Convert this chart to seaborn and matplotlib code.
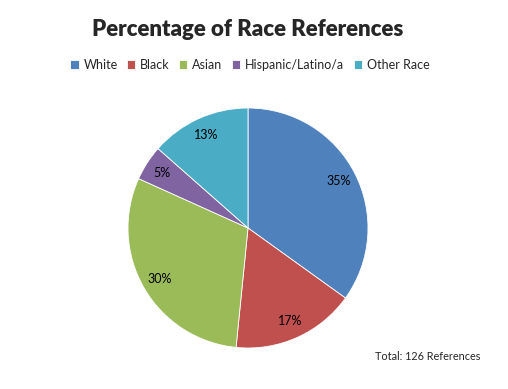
import matplotlib
matplotlib.use('Agg')
import matplotlib.pyplot as plt
import seaborn as sns

races = ['White', 'Black', 'Asian', 'Hispanic/Latino/a', 'Other Race']
counts = [44, 21, 38, 6, 17]
total_refs = 126

sns.set_theme(style='white')
plt.rcParams['font.family'] = ['Lato', 'DejaVu Sans']

colors = sns.color_palette(['#4F81BD', '#C0504D', '#9BBB59', '#8064A2', '#4BACC6'])

fig = plt.figure(figsize=(5.08, 3.89), dpi=100)
ax = fig.add_axes([128 / 508, 41 / 389, 240 / 508, 240 / 389])
wedges, texts, autotexts = ax.pie(
    counts, colors=colors, startangle=90, counterclock=False,
    autopct='%1.0f%%', pctdistance=0.85,
    wedgeprops={'edgecolor': 'white', 'linewidth': 0.6},
    textprops={'fontsize': 9, 'color': 'black'})
ax.set_xlim(-1, 1)
ax.set_ylim(-1, 1)
ax.set_aspect('equal')

fig.text(248 / 508, 1 - 29 / 389, 'Percentage of Race References',
         ha='center', va='center', fontsize=16, fontweight='heavy')

fig.legend(wedges, races, loc='center', bbox_to_anchor=(250 / 508, 1 - 65 / 389),
           ncol=5, frameon=False, fontsize=9, handlelength=0.65, handleheight=0.65,
           handletextpad=0.4, columnspacing=0.75)

fig.text(375 / 508, 1 - 357 / 389, 'Total: %d References' % total_refs,
         ha='left', va='center', fontsize=7.8)

fig.savefig('out.png', dpi=100)
